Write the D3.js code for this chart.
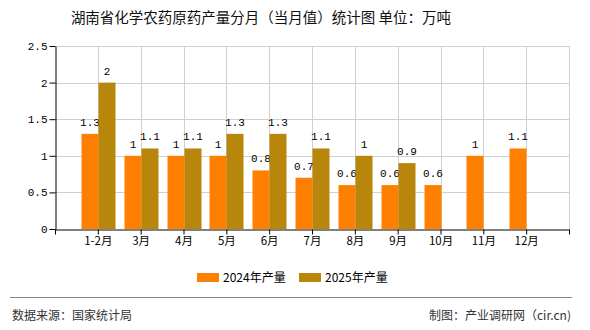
<!DOCTYPE html>
<html><head><meta charset="utf-8">
<script src="https://cdn.jsdelivr.net/npm/d3@7"></script>
<style>body{margin:0;background:#fff}</style>
</head><body>
<svg id="c" width="590" height="330"></svg>
<script>
const categories = ["1-2月","3月","4月","5月","6月","7月","8月","9月","10月","11月","12月"];
const series2024 = [1.3,1,1,1,0.8,0.7,0.6,0.6,0.6,1,1.1];
const series2025 = [2,1.1,1.1,1.3,1.3,1.1,1,0.9];
const seriesNames = ["2024年产量","2025年产量"];
const seriesColors = ["#FF8000","#B8860B"];
const yTicks = [0,0.5,1,1.5,2,2.5];
const yTickLabels = ["0","0.5","1","1.5","2","2.5"];
const title = "湖南省化学农药原药产量分月（当月值）统计图 单位：万吨";
const sourceText = "数据来源：国家统计局";
const makerText = "制图：产业调研网（cir.cn)";

const svg = d3.select("#c");
const L = 55, R = 569, T = 46, B = 229;
const x = d3.scaleLinear().domain([0, categories.length + 1]).range([L, R]);
const y = d3.scaleLinear().domain([0, 2.5]).range([B, T]);
const bw = 17;
const mono = "'Liberation Mono','DejaVu Sans Mono',monospace";
const cjk = "'Noto Sans CJK SC',sans-serif";

svg.append("text").attr("x", 261).attr("y", 23).attr("text-anchor","middle")
  .attr("font-family", cjk).attr("font-size", 14.5).attr("fill","#111").text(title);

// grid
const g = svg.append("g");
g.selectAll("line.h").data(yTicks.slice(1)).join("line")
  .attr("x1", L).attr("x2", R).attr("y1", d => Math.round(y(d))+0.5).attr("y2", d => Math.round(y(d))+0.5)
  .attr("stroke","#d0d0d0");
const vx = d3.range(1, categories.length + 2);
g.selectAll("line.v").data(vx).join("line")
  .attr("x1", d => Math.round(x(d))+0.5).attr("x2", d => Math.round(x(d))+0.5)
  .attr("y1", T).attr("y2", B).attr("stroke","#d0d0d0");

// bars
const sets = [series2024, series2025];
sets.forEach((arr, si) => {
  const gg = svg.append("g");
  gg.selectAll("rect").data(arr).join("rect")
    .attr("x", (d,i) => Math.round(x(i+1)) + (si === 0 ? -bw : 0) + (si===0?0.5:0.5))
    .attr("y", d => y(d)).attr("width", bw).attr("height", d => B - y(d))
    .attr("fill", seriesColors[si]);
  gg.selectAll("text").data(arr).join("text")
    .attr("x", (d,i) => Math.round(x(i+1)) + (si === 0 ? -bw/2 : bw/2) + 0.5)
    .attr("y", d => y(d) - 8).attr("text-anchor","middle")
    .attr("font-family", mono).attr("font-size", 11).attr("fill","#000")
    .text(d => d);
});

// axes
const yAxis = svg.append("g").attr("transform", `translate(${L+0.5},0)`)
  .call(d3.axisLeft(y).tickValues(yTicks).tickFormat((d,i) => yTickLabels[i]).tickSize(6).tickSizeOuter(0));
yAxis.select(".domain").attr("stroke","#000");
yAxis.selectAll(".tick line").attr("stroke","#000");
yAxis.selectAll("text").attr("font-family", mono).attr("font-size", 11).attr("fill","#000").attr("x",-8);

const xAxis = svg.append("g").attr("transform", `translate(0,${B+0.5})`)
  .call(d3.axisBottom(x).tickValues(d3.range(0, categories.length + 2))
    .tickFormat(d => (d >= 1 && d <= categories.length) ? categories[d-1] : "").tickSize(5).tickSizeOuter(0));
xAxis.select(".domain").attr("stroke","#000");
xAxis.selectAll(".tick line").attr("stroke","#000");
xAxis.selectAll("text").attr("font-family", cjk).attr("font-size", 11.5).attr("fill","#000").attr("y", 7);

// legend
const lg = svg.append("g");
const lx = [197, 299];
seriesNames.forEach((n, i) => {
  lg.append("rect").attr("x", lx[i]).attr("y", 273).attr("width", 22).attr("height", 9).attr("fill", seriesColors[i]);
  lg.append("text").attr("x", lx[i] + 26).attr("y", 282).attr("font-family", cjk).attr("font-size", 12).attr("fill","#000").text(n);
});

// footer
svg.append("line").attr("x1",10).attr("x2",572).attr("y1",297.5).attr("y2",297.5).attr("stroke","#888").attr("stroke-width",1);
svg.append("text").attr("x",12).attr("y",320).attr("font-family",cjk).attr("font-size",12).attr("fill","#333").text(sourceText);
svg.append("text").attr("x",571).attr("y",320).attr("text-anchor","end").attr("font-family",cjk).attr("font-size",12).attr("fill","#333").text(makerText);
</script>
</body></html>
